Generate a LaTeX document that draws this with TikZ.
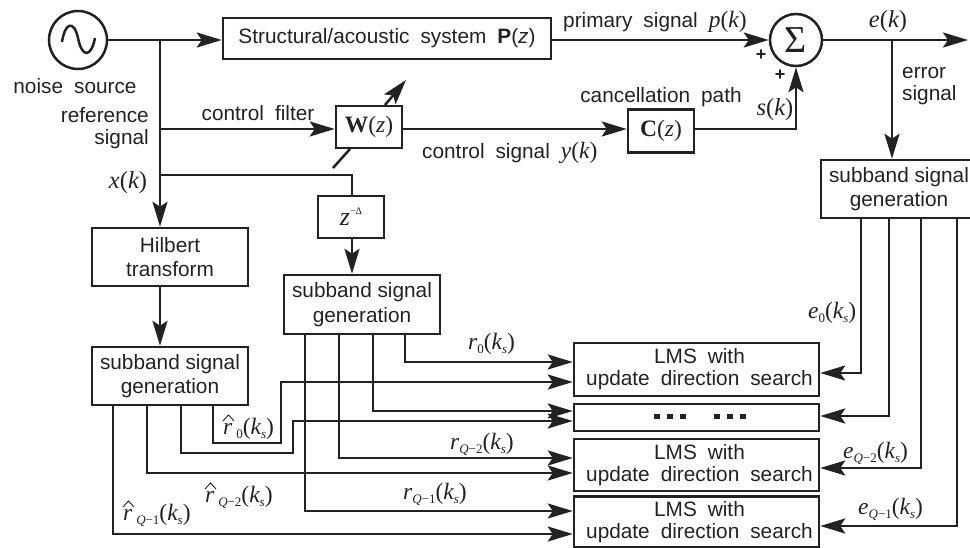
\documentclass[tikz,border=0pt]{standalone}
\usepackage{fontspec}
\setmainfont{Liberation Sans}
\newfontfamily\srf{Liberation Serif}
\usetikzlibrary{arrows.meta,calc}
\definecolor{ink}{HTML}{222222}
\newcommand{\Iv}[1]{{\srf\itshape #1}}
\newcommand{\Rm}[1]{{\srf #1}}
\newcommand{\Sb}[1]{\raisebox{-4pt}{\fontsize{13}{13}\selectfont\srf #1}}
\newcommand{\SbQ}[1]{\raisebox{-4pt}{\fontsize{13}{13}\selectfont\srf\textit{Q}−#1}}
\newcommand{\Ks}{\Rm{(}\Iv{k}\raisebox{-4pt}{\fontsize{13}{13}\selectfont\srf\itshape s}\Rm{)}}
\newcommand{\Wsp}{\hspace{0.25em}}
\tikzset{
  rbox/.style={draw=ink,line width=2.5pt,fill=none,inner sep=0pt,align=center,text=ink,font=\fontsize{20.8}{24.5}\selectfont},
  lmsbox/.style={rbox,font=\fontsize{20.8}{22}\selectfont},
  mbox/.style={rbox,font=\fontsize{23.5}{26}\selectfont},
  lab/.style={inner sep=0pt,text=ink,font=\fontsize{20.8}{22}\selectfont,align=center},
  mlab/.style={inner sep=0pt,text=ink,font=\fontsize{23.5}{26}\selectfont,yshift=-2pt},
  bigm/.style={inner sep=0pt,text=ink,font=\fontsize{24.5}{26}\selectfont,yshift=-2pt},
  wire/.style={draw=ink,line width=2.5pt,line join=miter},
  arr/.style={wire,-{Stealth[length=25pt,width=15pt,inset=5pt]}},
  hatline/.style={draw=ink,line width=0.9pt}
}
\begin{document}
\begin{tikzpicture}[x=1pt,y=-1pt]
\useasboundingbox (0,0) rectangle (970,548);
% blocks
\node[rbox,circle,minimum size=58pt] (src) at (78,40) {};
\draw[ink,line width=2.5pt] (62,42) .. controls (65,22) and (74,20) .. (78,38) .. controls (82,58) and (91,58) .. (95,38);
\node[rbox,minimum width=328pt,minimum height=41pt] (P) at (387,38.5) {Structural/acoustic\Wsp\ system\Wsp\ \textbf{P}(\textit{z})};
\node[rbox,circle,minimum size=52pt] (sum) at (796,40) {\fontsize{38}{38}\selectfont\srf\raisebox{-2pt}{Σ}};
\node[mbox,minimum width=66pt,minimum height=42pt] (W) at (369,127) {\srf\textbf{W}(\Iv{z})};
\node[mbox,minimum width=66pt,minimum height=43pt] (C) at (661,131) {\srf\textbf{C}(\Iv{z})};
\node[mbox,minimum width=66pt,minimum height=42pt] (D) at (351,217) {\fontsize{26}{26}\selectfont\Iv{z}\raisebox{11pt}{\fontsize{10}{10}\selectfont\srf −Δ}};
\node[rbox,minimum width=156pt,minimum height=58pt] (H) at (170,257) {Hilbert\\transform};
\node[rbox,minimum width=156pt,minimum height=58pt] (SL) at (170,376) {subband signal\\generation};
\node[rbox,minimum width=156pt,minimum height=59pt] (SM) at (362,304.5) {subband signal\\generation};
\node[rbox,minimum width=156pt,minimum height=58pt] (SR) at (899,189) {subband signal\\generation};
\node[lmsbox,minimum width=245pt,minimum height=53pt] (L1) at (696.5,369.5) {\hspace*{6pt}LMS\Wsp\ with\\\hspace*{6pt}update\Wsp\ direction\Wsp\ search};
\node[rbox,minimum width=245pt,minimum height=27pt] (LD) at (696.5,417.5) {\hspace*{6pt}\rule[2pt]{6pt}{5pt}\hspace{7pt}\rule[2pt]{6pt}{5pt}\hspace{7pt}\rule[2pt]{6pt}{5pt}\hspace{28pt}\rule[2pt]{6pt}{5pt}\hspace{7pt}\rule[2pt]{6pt}{5pt}\hspace{7pt}\rule[2pt]{6pt}{5pt}};
\node[lmsbox,minimum width=245pt,minimum height=52pt] (L3) at (696.5,465) {\hspace*{6pt}LMS\Wsp\ with\\\hspace*{6pt}update\Wsp\ direction\Wsp\ search};
\node[lmsbox,minimum width=245pt,minimum height=51pt] (L4) at (696.5,522) {\hspace*{6pt}LMS\Wsp\ with\\\hspace*{6pt}update\Wsp\ direction\Wsp\ search};
% free ends and branch points
\coordinate (j1) at (160,40);
\coordinate (j2) at (160,129);
\coordinate (j3) at (160,175);
\coordinate (jD) at (352,175);
\coordinate (je) at (892,40);
\coordinate (out) at (968,40);
\coordinate (sk) at (796,129);
\coordinate (wa) at (333,168);
\coordinate (wb) at (350,149);
\coordinate (wc) at (385,105);
\coordinate (wd) at (406,80);
% top row
\draw[arr] (src.east) -- (j1) -- (P.west |- j1);
\draw[arr] (j1) -- (H.north -| j1);
\draw[arr] (j2) -- (W.west |- j2);
\draw[wire] (j3) -- (jD) -- (D.north -| jD);
\draw[arr] (D.south -| jD) -- (SM.north -| jD);
\draw[arr] (W.east |- sk) -- (C.west |- sk);
\draw[arr] (C.east |- sk) -- (sk) -- (sum.south);
\draw[arr] (P.east |- sum) -- (sum.west);
\draw[arr] (sum.east) -- (out);
\draw[arr] (je) -- (SR.north -| je);
\draw[arr] (H.south -| j1) -- (SL.north -| j1);
\draw[wire] (wa) -- (wb);
\draw[arr] (wc) -- (wd);
% mid bank
\coordinate (ma) at (405,362); \coordinate (mb) at (373,411); \coordinate (mc) at (339,458); \coordinate (md) at (305,511);
\draw[arr] (SM.south -| ma) |- (L1.west |- ma);
\draw[arr] (SM.south -| mb) |- (LD.west |- mb);
\draw[arr] (SM.south -| mc) |- (L3.west |- mc);
\draw[arr] (SM.south -| md) |- (L4.west |- md);
% left bank
\coordinate (la) at (213,443); \coordinate (lb) at (281,382); \coordinate (lc) at (181,453); \coordinate (ld) at (293,421);
\coordinate (le) at (147,473); \coordinate (lf) at (113,534);
\draw[arr] (SL.south -| la) -- (la) -- (la -| lb) -- (lb) -- (L1.west |- lb);
\draw[arr] (SL.south -| lc) -- (lc) -- (lc -| ld) -- (ld) -- (LD.west |- ld);
\draw[arr] (SL.south -| le) |- (L3.west |- le);
\draw[arr] (SL.south -| lf) |- (L4.west |- lf);
% right bank
\coordinate (ra) at (861,373); \coordinate (rb) at (889,416); \coordinate (rc) at (921,468); \coordinate (rd) at (957,526);
\draw[arr] (SR.south -| ra) |- (L1.east |- ra);
\draw[arr] (SR.south -| rb) |- (LD.east |- rb);
\draw[arr] (SR.south -| rc) |- (L3.east |- rc);
\draw[arr] (SR.south -| rd) |- (L4.east |- rd);
% labels
\node[lab] (t1) at (75,86) {noise\Wsp\ source};
\node[lab,align=right,anchor=east] (t2) at (149,128) {reference\\signal};
\node[bigm] (t3) at (128,181) {\Iv{x}\Rm{(}\Iv{k}\Rm{)}};
\node[lab] (t4) at (258,113) {control\Wsp\ filter};
\node[lab,anchor=west] (t5) at (422,153) {control\Wsp\ signal\Wsp\ {\fontsize{23.5}{26}\selectfont\Iv{y}\Rm{(}\Iv{k}\Rm{)}}};
\node[lab,anchor=west] (t6) at (563,22) {primary\Wsp\ signal\Wsp\ {\fontsize{23.5}{26}\selectfont\Iv{p}\Rm{(}\Iv{k}\Rm{)}}};
\node[lab] (t7) at (661,97) {cancellation\Wsp\ path};
\node[bigm] (t8) at (775,108) {\Iv{s}\Rm{(}\Iv{k}\Rm{)}};
\node[bigm] (t9) at (888,20) {\Iv{e}\Rm{(}\Iv{k}\Rm{)}};
\node[lab,align=left,anchor=west] (t10) at (902,86) {error\\signal};
\node[lab,font=\bfseries\fontsize{18}{18}\selectfont] (t11) at (761,55) {+};
\node[lab,font=\bfseries\fontsize{18}{18}\selectfont] (t12) at (780,75) {+};
\node[mlab,anchor=west] (r0) at (468,342) {\Iv{r}\Sb{0}\Ks};
\node[mlab,anchor=west] (r2) at (450,442) {\Iv{r}\SbQ{2}\Ks};
\node[mlab,anchor=west] (r1) at (403,492) {\Iv{r}\SbQ{1}\Ks};
\node[mlab,anchor=west] (h0) at (223,427) {\Iv{r}\,\Sb{0}\Ks};
\node[mlab,anchor=west] (h2) at (205,495) {\Iv{r}\,\SbQ{2}\Ks};
\node[mlab,anchor=west] (h1) at (123,513) {\Iv{r}\,\SbQ{1}\Ks};
\node[mlab,anchor=west] (e0) at (808,311) {\Iv{e}\Sb{0}\Ks};
\node[mlab,anchor=west] (e2) at (843,451) {\Iv{e}\SbQ{2}\Ks};
\node[mlab,anchor=west] (e1) at (858,507) {\Iv{e}\SbQ{1}\Ks};
% hats
\foreach \h in {h0,h2,h1}{
  \draw[hatline] ($(\h.west)+(0,-8)$) -- ($(\h.west)+(5.5,-14)$) -- ($(\h.west)+(11,-8)$);
}
\end{tikzpicture}
\end{document}
